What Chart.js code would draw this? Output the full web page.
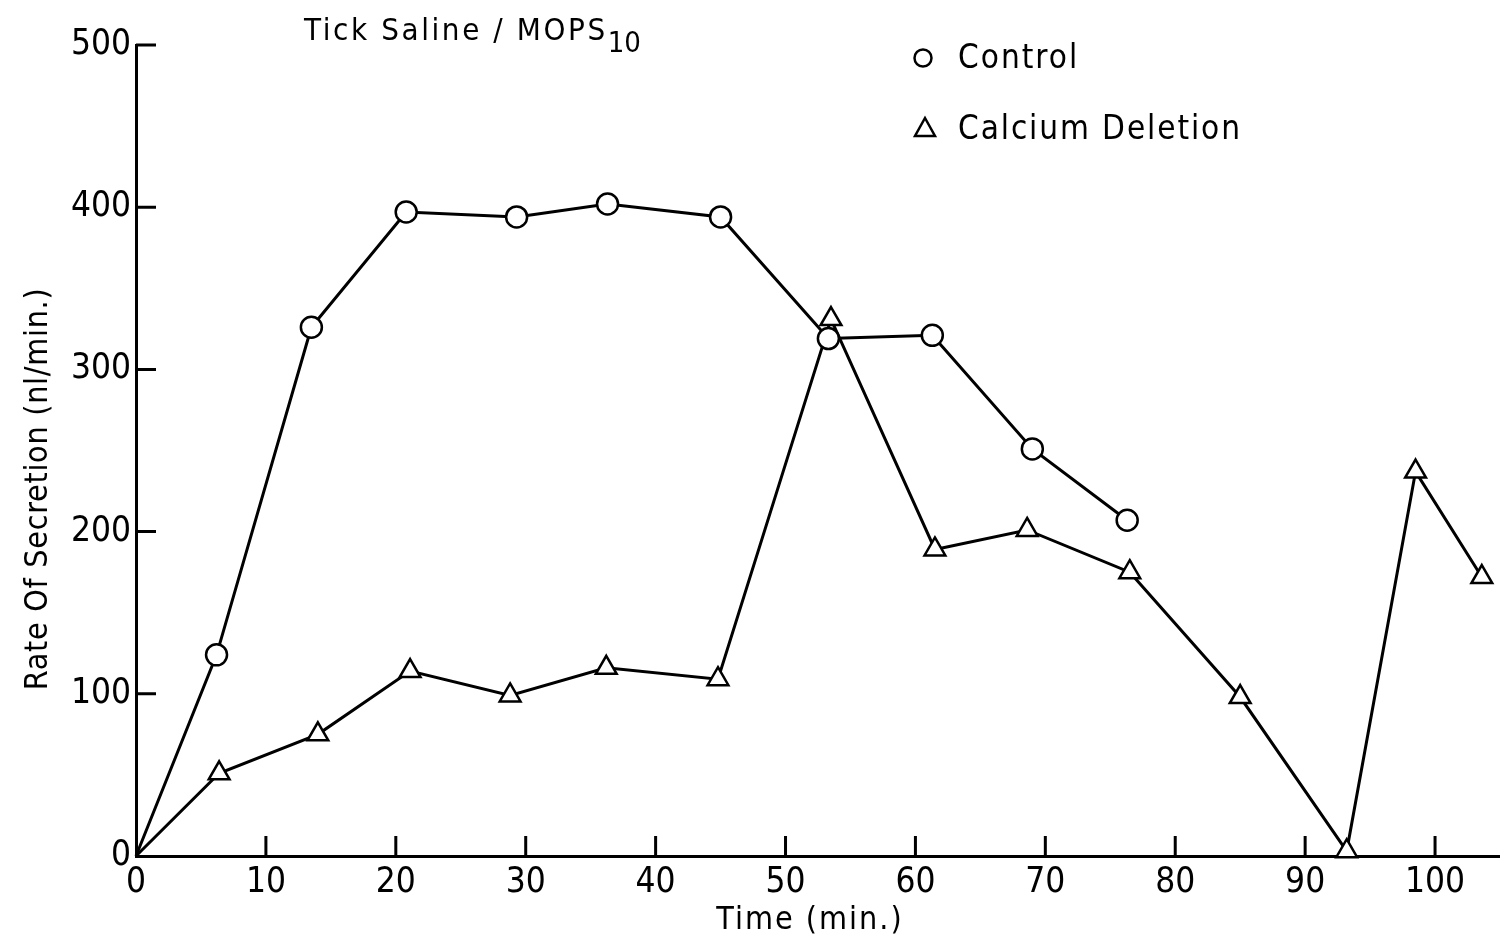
<!DOCTYPE html>
<html>
<head>
<meta charset="utf-8">
<script src="https://cdn.jsdelivr.net/npm/chart.js@4.4.1/dist/chart.umd.min.js"></script>
<style>
  html, body { margin: 0; padding: 0; background: #fff; overflow: hidden; }
  canvas { display: block; }
</style>
</head>
<body>
<canvas id="chart" width="1500" height="939"></canvas>
<script>
// data
const controlTime = [0, 6.2, 13.5, 20.8, 29.3, 36.3, 45.0, 53.3, 61.3, 69.0, 76.3];
const controlRate = [0, 124, 326, 397, 394, 402, 394, 319, 321, 251, 207];
const calciumTime = [0, 6.4, 14.0, 21.1, 28.8, 36.2, 44.8, 53.5, 61.5, 68.6, 76.5, 85.0, 93.2, 98.5, 103.6];
const calciumRate = [0, 51, 75, 114, 99, 116, 109, 331, 189, 201, 175, 98, 3, 237, 172];
const xTicks = [0, 10, 20, 30, 40, 50, 60, 70, 80, 90, 100];
const yTicks = [0, 100, 200, 300, 400, 500];

const FONT = "'DejaVu Sans Condensed', 'DejaVu Sans', sans-serif";

// the last triangle sits on the right edge; don't let it shrink the plot area
Chart.LineController.prototype.getMaxOverflow = function() { return 0; };

const toPoints = (xs, ys) => xs.map((x, i) => ({x: x, y: ys[i]}));

// hide marker on the origin point
const markerSize = r => ctx => ctx.dataIndex === 0 ? 0 : r;

function spacedText(ctx, text, x, y, spacing) {
  ctx.letterSpacing = spacing + 'px';
  ctx.fillText(text, x, y);
  ctx.letterSpacing = '0px';
}

// inward ticks, title, legend and axis titles
const decorPlugin = {
  id: 'decor',
  afterDraw(chart) {
    const {ctx, chartArea, scales} = chart;
    const xs = scales.x, ys = scales.y;
    ctx.save();
    ctx.strokeStyle = '#000';
    ctx.lineWidth = 3;
    ctx.beginPath();
    xTicks.forEach(v => {
      if (v === 0) return;
      const px = xs.getPixelForValue(v);
      ctx.moveTo(px, chartArea.bottom);
      ctx.lineTo(px, chartArea.bottom - 20);
    });
    yTicks.forEach(v => {
      if (v === 0) return;
      const py = ys.getPixelForValue(v);
      ctx.moveTo(chartArea.left, py);
      ctx.lineTo(chartArea.left + 20, py);
    });
    ctx.stroke();

    ctx.fillStyle = '#000';
    ctx.textBaseline = 'alphabetic';
    ctx.textAlign = 'left';

    // title with subscript
    ctx.font = '31px ' + FONT;
    spacedText(ctx, 'Tick Saline / MOPS', 304, 40, 2.6);
    ctx.letterSpacing = '2.6px';
    const w = ctx.measureText('Tick Saline / MOPS').width;
    ctx.letterSpacing = '0px';
    ctx.font = '29px ' + FONT;
    spacedText(ctx, '10', 304 + w, 52, 0);

    // legend
    ctx.lineWidth = 2.5;
    ctx.beginPath();
    ctx.arc(923, 58, 8.5, 0, Math.PI * 2);
    ctx.stroke();
    ctx.beginPath();
    ctx.moveTo(925, 118);
    ctx.lineTo(935, 136);
    ctx.lineTo(915, 136);
    ctx.closePath();
    ctx.stroke();
    ctx.font = '33px ' + FONT;
    spacedText(ctx, 'Control', 958, 68, 2);
    spacedText(ctx, 'Calcium Deletion', 958, 139, 1.9);

    // axis titles
    ctx.font = '32px ' + FONT;
    ctx.textAlign = 'center';
    spacedText(ctx, 'Time (min.)', 810, 929, 2);
    ctx.translate(47, 489);
    ctx.rotate(-Math.PI / 2);
    spacedText(ctx, 'Rate Of Secretion (nl/min.)', 0, 0, 0.7);
    ctx.restore();
  }
};

new Chart(document.getElementById('chart'), {
  type: 'line',
  data: {
    datasets: [
      {
        label: 'Control',
        data: toPoints(controlTime, controlRate),
        borderColor: '#000',
        borderWidth: 3,
        pointStyle: 'circle',
        pointRadius: markerSize(10.5),
        pointBorderWidth: 2.5,
        pointBorderColor: '#000',
        pointBackgroundColor: '#fff',
        tension: 0,
        clip: false
      },
      {
        label: 'Calcium Deletion',
        data: toPoints(calciumTime, calciumRate),
        borderColor: '#000',
        borderWidth: 3,
        pointStyle: 'triangle',
        pointRadius: markerSize(12),
        pointBorderWidth: 2.5,
        pointBorderColor: '#000',
        pointBackgroundColor: '#fff',
        tension: 0,
        clip: false
      }
    ]
  },
  options: {
    responsive: false,
    devicePixelRatio: 1,
    animation: false,
    layout: { padding: { top: 45, right: 0, left: 0, bottom: 0 } },
    plugins: {
      legend: { display: false },
      tooltip: { enabled: false },
      title: { display: false }
    },
    scales: {
      x: {
        type: 'linear',
        min: 0,
        max: 105,
        afterBuildTicks: s => { s.ticks = xTicks.map(v => ({value: v})); },
        afterFit: s => { s.height = 83; s.paddingRight = 0; s.paddingLeft = 0; },
        grid: { display: false, drawTicks: false },
        border: { display: true, color: '#000', width: 3 },
        ticks: {
          color: '#000',
          padding: 6,
          maxRotation: 0,
          autoSkip: false,
          font: { family: FONT, size: 35 }
        }
      },
      y: {
        type: 'linear',
        min: 0,
        max: 500,
        afterBuildTicks: s => { s.ticks = yTicks.map(v => ({value: v})); },
        afterFit: s => { s.width = 136; },
        grid: { display: false, drawTicks: false },
        border: { display: true, color: '#000', width: 3 },
        ticks: {
          color: '#000',
          padding: 5,
          font: { family: FONT, size: 35 }
        }
      }
    }
  },
  plugins: [decorPlugin]
});
</script>
</body>
</html>
